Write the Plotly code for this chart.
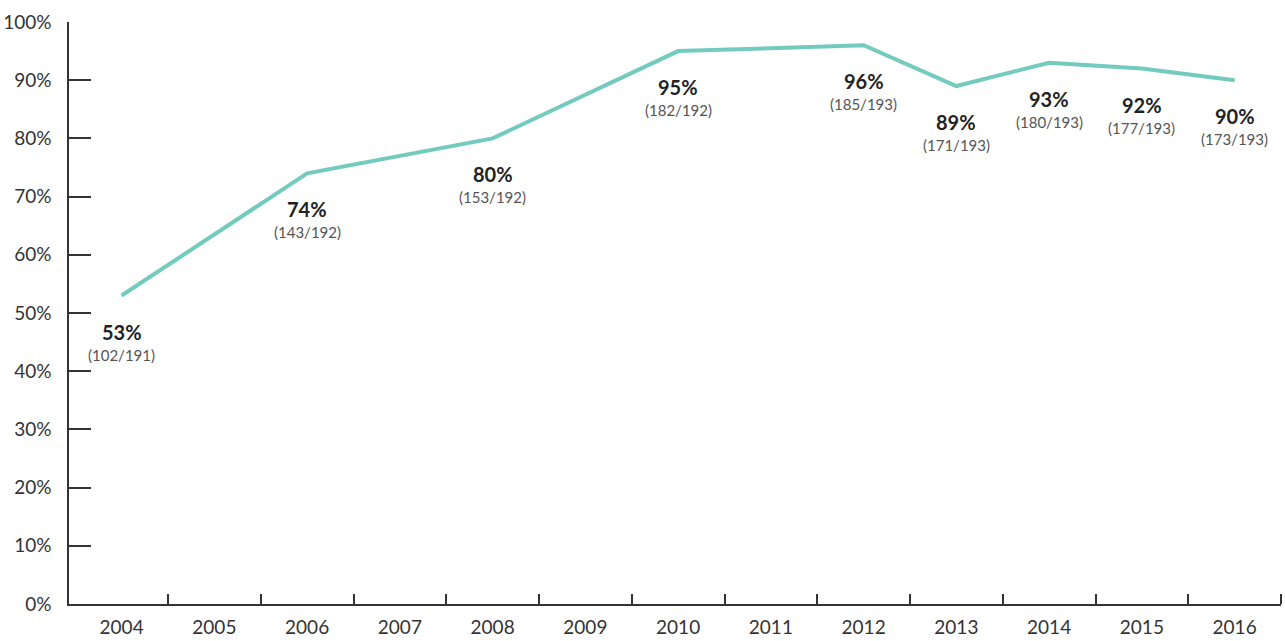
import plotly.graph_objects as go

years = [2004, 2005, 2006, 2007, 2008, 2009, 2010, 2011, 2012, 2013, 2014, 2015, 2016]
point_years = [2004, 2006, 2008, 2010, 2012, 2013, 2014, 2015, 2016]
values = [53, 74, 80, 95, 96, 89, 93, 92, 90]
counts = ["(102/191)", "(143/192)", "(153/192)", "(182/192)", "(185/193)",
          "(171/193)", "(180/193)", "(177/193)", "(173/193)"]
y_ticks = list(range(0, 101, 10))

FONT = "Lato"
TXT = "#333333"

fig = go.Figure()
fig.add_trace(go.Scatter(
    x=point_years, y=values, mode="lines",
    line=dict(color="#72CBBE", width=4),
    hoverinfo="skip", showlegend=False,
))

anns = []
for x, v, c in zip(point_years, values, counts):
    anns.append(dict(x=x, y=v, xref="x", yref="y", text=f"<b>{v}%</b>",
                     showarrow=False, yshift=-36,
                     font=dict(family=FONT, size=20, color="#222222")))
    anns.append(dict(x=x, y=v, xref="x", yref="y", text=c,
                     showarrow=False, yshift=-59,
                     font=dict(family=FONT, size=15, color="#555555")))

boundaries = [y + 0.5 for y in years]

fig.update_layout(
    width=1285, height=641,
    margin=dict(l=69, r=4, t=22, b=37),
    paper_bgcolor="white", plot_bgcolor="white",
    font=dict(family=FONT, color=TXT),
    annotations=anns,
    xaxis=dict(
        range=[2016.5 - 1212 / 92.75, 2016.5],
        automargin=False,
        tickmode="array", tickvals=years, ticktext=[str(y) for y in years],
        ticks="", showgrid=False, zeroline=False,
        showline=True, linecolor="#333333", linewidth=1.5,
        tickfont=dict(family=FONT, size=19, color=TXT),
        ticklabelstandoff=5,
        minor=dict(tickmode="array", tickvals=boundaries, ticks="inside",
                   ticklen=10, tickwidth=1.5, tickcolor="#333333", showgrid=False),
    ),
    yaxis=dict(
        range=[0, 100],
        automargin=False,
        tickmode="array", tickvals=y_ticks, ticktext=[f"{t}%" for t in y_ticks],
        ticks="inside", ticklen=22, tickwidth=1.5, tickcolor="#333333",
        showgrid=False, zeroline=False,
        showline=True, linecolor="#333333", linewidth=1.5,
        tickfont=dict(family=FONT, size=19, color=TXT),
        ticklabelstandoff=12,
    ),
)

fig.write_html("out.html", config={"displayModeBar": False},
               post_script="document.body.style.margin='0';document.body.style.overflow='hidden';")
